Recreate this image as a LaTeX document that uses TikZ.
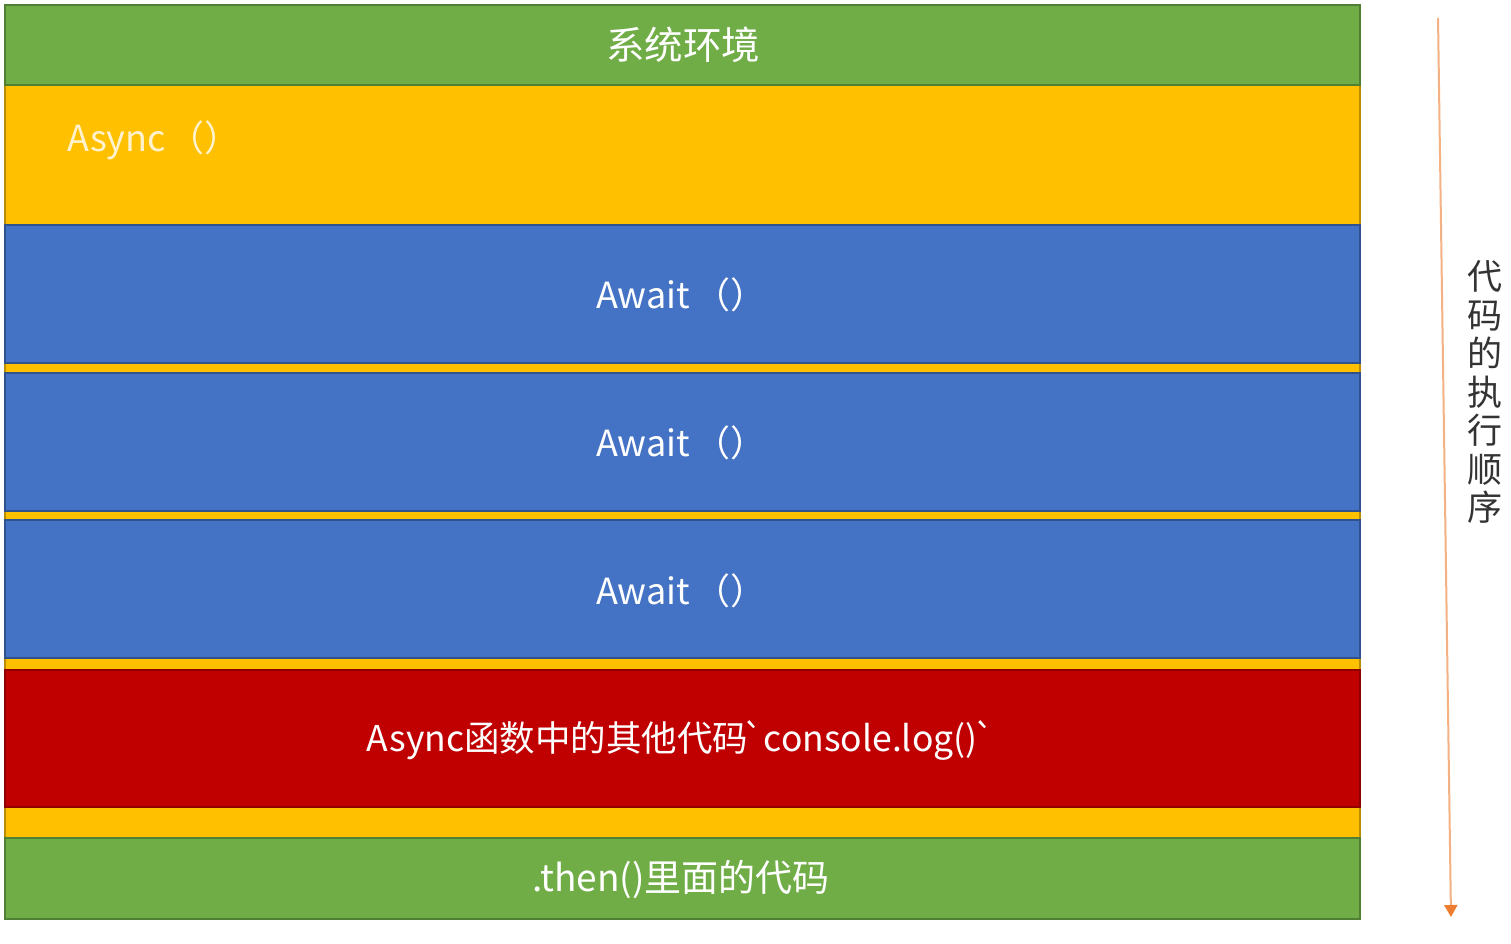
\documentclass[tikz,border=0pt]{standalone}
\usepackage{fontspec}
\setmainfont{Noto Sans CJK SC}
\usetikzlibrary{arrows.meta}
\definecolor{gfill}{HTML}{70AD47}
\definecolor{gdraw}{HTML}{507E32}
\definecolor{yfill}{HTML}{FFC000}
\definecolor{ydraw}{HTML}{BC8C00}
\definecolor{bfill}{HTML}{4472C4}
\definecolor{bdraw}{HTML}{2F528F}
\definecolor{rfill}{HTML}{C00000}
\definecolor{rdraw}{HTML}{8F0000}
\definecolor{lightorange}{HTML}{F4B183}
\definecolor{arrorange}{HTML}{ED7D31}
\definecolor{asynctext}{HTML}{FFF2CC}
\tikzset{
  band/.style={rectangle, anchor=north west, inner sep=0pt, line width=1.6pt, minimum width=1355pt},
  lab/.style={inner sep=0pt, text=white, font=\fontsize{36}{40}\selectfont},
}
\begin{document}
\begin{tikzpicture}[x=1pt,y=-1pt]
\useasboundingbox (0,0) rectangle (1511,944);
% background bands
\node[band, fill=yfill, draw=ydraw, minimum height=753pt] (async) at (4,84) {};
\node[band, fill=gfill, draw=gdraw, minimum height=80pt] (sys) at (4,4) {};
\node[band, fill=bfill, draw=bdraw, minimum height=138pt] (aw1) at (4,224) {};
\node[band, fill=bfill, draw=bdraw, minimum height=138pt] (aw2) at (4,372) {};
\node[band, fill=bfill, draw=bdraw, minimum height=138pt] (aw3) at (4,519) {};
\node[band, fill=rfill, draw=rdraw, minimum height=137pt] (other) at (4,669) {};
\node[band, fill=gfill, draw=gdraw, minimum height=81pt] (then) at (4,837) {};
% labels
\node[lab, font=\fontsize{38.5}{42}\selectfont] (tsys) at (683,45) {系统环境};
\node[lab, anchor=west, text=asynctext] (tasync) at (67,140) {Async\kern3pt（）};
\node[lab, anchor=west] (taw1) at (596,295) {Await\kern4pt（）};
\node[lab, anchor=west] (taw2) at (596,443) {Await\kern4pt（）};
\node[lab, anchor=west] (taw3) at (596,591) {Await\kern4pt（）};
\node[lab, font=\fontsize{35.5}{40}\selectfont] (tother) at (681,740) {Async函数中的其他代码\kern-6pt\textasciigrave console.log()\kern-4pt\textasciigrave};
\node[lab, font=\fontsize{37}{40}\selectfont] (tthen) at (681,880) {.then()里面的代码};
% order arrow
\coordinate (arrS) at (1438,18);
\coordinate (arrE) at (1451,917);
\draw[lightorange, line width=2pt, -{Triangle[width=13pt,length=12pt,color=arrorange]}] (arrS) -- (arrE);
\node[inner sep=0pt, align=center, text=black!80, font=\fontsize{35}{38.5}\selectfont] (order) at (1485,392) {代\\码\\的\\执\\行\\顺\\序};
\end{tikzpicture}
\end{document}
